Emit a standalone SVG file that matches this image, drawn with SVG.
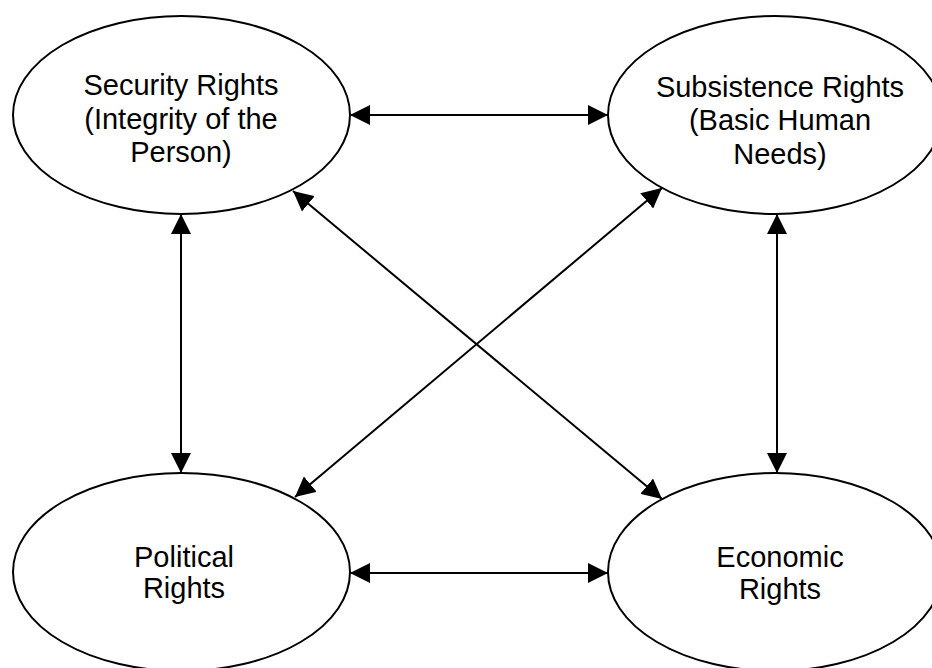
<svg xmlns="http://www.w3.org/2000/svg" width="932" height="668" viewBox="0 0 932 668">
  <style>
    .node ellipse { fill: #ffffff; stroke: #000000; stroke-width: 2; }
    .node text { font-family: "Liberation Sans", Arial, sans-serif; font-size: 29px; fill: #000000; text-anchor: middle; }
    .edges line { stroke: #000000; stroke-width: 2; marker-start: url(#arrow); marker-end: url(#arrow); }
  </style>
  <defs>
    <marker id="arrow" markerUnits="userSpaceOnUse" markerWidth="20" markerHeight="20" refX="20" refY="10" orient="auto-start-reverse" viewBox="0 0 20 20">
      <path d="M0,0 L20,10 L0,20 z" fill="#000000"/>
    </marker>
  </defs>
  <rect width="932" height="668" fill="#ffffff"/>

  <g id="security" class="node">
    <ellipse cx="181.5" cy="115" rx="168.5" ry="99"/>
    <text x="181" y="95">Security Rights</text>
    <text x="181" y="128.5">(Integrity of the</text>
    <text x="181" y="162">Person)</text>
  </g>

  <g id="subsistence" class="node">
    <ellipse cx="775" cy="115" rx="167" ry="99"/>
    <text x="780" y="96.5">Subsistence Rights</text>
    <text x="780" y="130">(Basic Human</text>
    <text x="780" y="163.5">Needs)</text>
  </g>

  <g id="political" class="node">
    <ellipse cx="181.5" cy="572" rx="168.5" ry="99"/>
    <text x="184" y="567">Political</text>
    <text x="184" y="598">Rights</text>
  </g>

  <g id="economic" class="node">
    <ellipse cx="775" cy="572" rx="167" ry="99"/>
    <text x="780" y="567">Economic</text>
    <text x="780" y="599">Rights</text>
  </g>

  <g class="edges" id="connectors">
    <line x1="350" y1="115" x2="608" y2="115"/>
    <line x1="350" y1="573" x2="608" y2="573"/>
    <line x1="181" y1="214" x2="181" y2="473"/>
    <line x1="777" y1="214" x2="777" y2="473"/>
    <line x1="293" y1="191" x2="662" y2="499"/>
    <line x1="662" y1="188" x2="295" y2="497"/>
  </g>
</svg>
